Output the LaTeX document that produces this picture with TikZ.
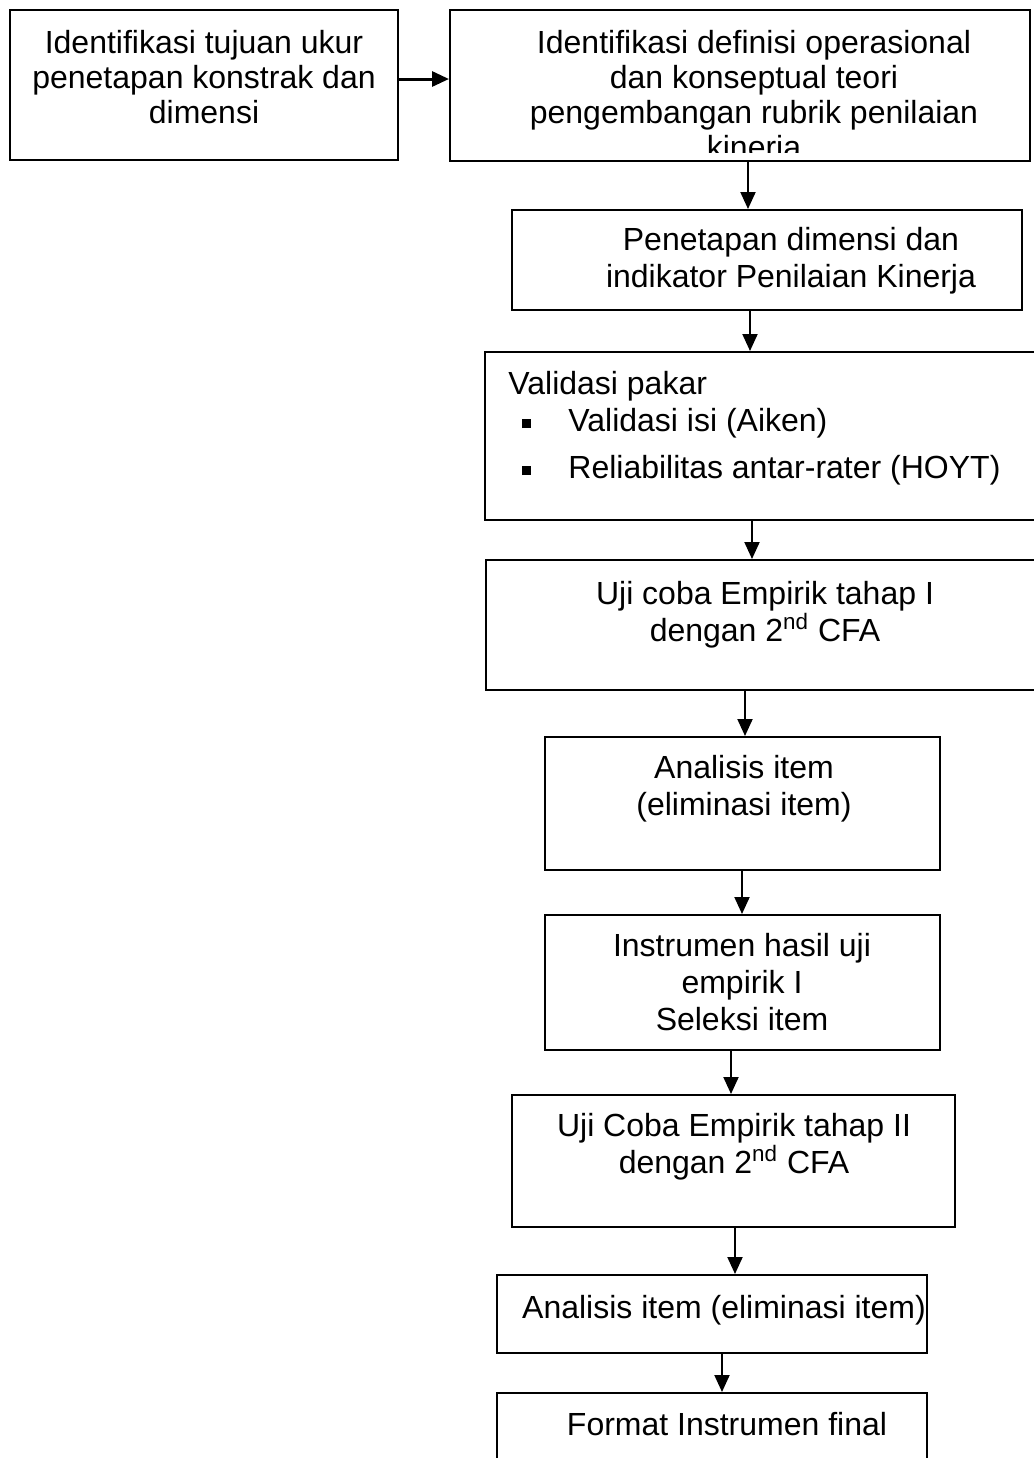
\documentclass[tikz,border=0pt]{standalone}
\usepackage{fontspec}
\setmainfont{Liberation Sans}
\usetikzlibrary{arrows.meta, fit}

\tikzset{
  box/.style={rectangle, draw, line width=1pt, inner sep=0pt},
  txt/.style={align=center, inner sep=0pt, font=\fontsize{16}{18.4}\selectfont},
  tighttxt/.style={txt, font=\fontsize{16}{17.5}\selectfont},
  item/.style={anchor=base west, inner sep=0pt, font=\fontsize{16}{18.4}\selectfont},
  flow/.style={-{Triangle[width=7.5pt,length=8.5pt]}, line width=1pt},
}
\newcommand{\sqbullet}{\makebox[30pt][l]{\hspace{7pt}\rule[1.5pt]{4.5pt}{4.5pt}}}

\begin{document}
\begin{tikzpicture}[x=0.5pt, y=-0.5pt]
  \useasboundingbox (0,0) rectangle (1034,1458);
  \clip (0,0) rectangle (1034,1458);

  % Boxes
  \node[box, fit={(10,10) (398,160)}] (tujuan) {};
  \node[box, fit={(450,10) (1030,161)}] (defop) {};
  \node[box, fit={(512,210) (1022,310)}] (dimensi) {};
  \node[box, fit={(485,352) (1044,520)}] (pakar) {};
  \node[box, fit={(486,560) (1044,690)}] (ujisatu) {};
  \node[box, fit={(545,737) (940,870)}] (analisis) {};
  \node[box, fit={(545,915) (940,1050)}] (seleksi) {};
  \node[box, fit={(512,1095) (955,1227)}] (ujidua) {};
  \node[box, fit={(497,1275) (927,1353)}] (eliminasi) {};
  \node[box, fit={(497,1393) (927,1480)}] (final) {};

  % Texts
  \node[tighttxt] (tujuantxt) at (204,77) {Identifikasi tujuan ukur\\penetapan konstrak dan\\dimensi};
  \begin{scope}
    \clip (defop.north west) rectangle (1030,152);
    \node[tighttxt] (defoptxt) at (754,98) {Identifikasi definisi operasional\\dan konseptual teori\\pengembangan rubrik penilaian\\kinerja};
  \end{scope}
  \node[txt] (dimensitxt) at (791,261) {Penetapan dimensi dan\\indikator Penilaian Kinerja};
  \node[item] (pakartxt) at (508,394) {Validasi pakar};
  \node[item] (isitxt) at (508,431) {\sqbullet Validasi isi (Aiken)};
  \node[item] (hoyttxt) at (508,478) {\sqbullet Reliabilitas antar-rater (HOYT)};
  \node[txt] (ujisatutxt) at (765,615) {Uji coba Empirik tahap I\\dengan 2\textsuperscript{nd} CFA};
  \node[txt] (analisistxt) at (744,789) {Analisis item\\(eliminasi item)};
  \node[txt] (seleksitxt) at (742,982) {Instrumen hasil uji\\empirik I\\Seleksi item};
  \node[txt] (ujiduatxt) at (734,1147) {Uji Coba Empirik tahap II\\dengan 2\textsuperscript{nd} CFA};
  \node[txt] (eliminasitxt) at (724,1310) {Analisis item (eliminasi item)};
  \node[txt] (finaltxt) at (727,1424) {Format Instrumen final};

  % Arrows
  \draw[flow, line width=1.5pt] (tujuan.east |- 0,79) -- (defop.west |- 0,79);
  \draw[flow] (defop.south -| 748,0) -- (dimensi.north -| 748,0);
  \draw[flow] (dimensi.south -| 750,0) -- (pakar.north -| 750,0);
  \draw[flow] (pakar.south -| 752,0) -- (ujisatu.north -| 752,0);
  \draw[flow] (ujisatu.south -| 745,0) -- (analisis.north -| 745,0);
  \draw[flow] (analisis.south -| 742,0) -- (seleksi.north -| 742,0);
  \draw[flow] (seleksi.south -| 731,0) -- (ujidua.north -| 731,0);
  \draw[flow] (ujidua.south -| 735,0) -- (eliminasi.north -| 735,0);
  \draw[flow] (eliminasi.south -| 722,0) -- (final.north -| 722,0);
\end{tikzpicture}
\end{document}
